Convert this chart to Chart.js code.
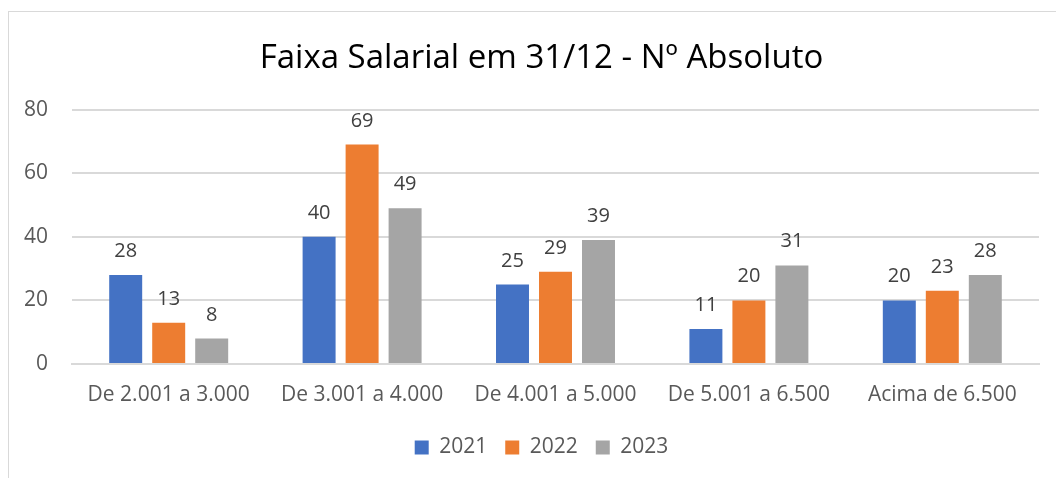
<!DOCTYPE html>
<html>
<head>
<meta charset="utf-8">
<script src="https://cdn.jsdelivr.net/npm/chart.js@4/dist/chart.umd.min.js"></script>
<style>
	html, body {margin:0; padding:0; background:#fff;}
	#wrap {position:relative; width:1056px; height:478px; overflow:hidden;}
	#frame {position:absolute; left:8px; top:11px; width:1100px; height:500px; border-left:1px solid #d9d9d9; border-top:1px solid #d9d9d9;}
	#chart {position:absolute; left:0; top:0;}
</style>
</head>
<body>
<div id="wrap">
	<div id="frame"></div>
	<canvas id="chart" width="1056" height="478"></canvas>
</div>
<script>
var categories = ['De 2.001 a 3.000','De 3.001 a 4.000','De 4.001 a 5.000','De 5.001 a 6.500','Acima de 6.500'];
var years = ['2021','2022','2023'];
var v2021 = [28, 40, 25, 11, 20];
var v2022 = [13, 69, 29, 20, 23];
var v2023 = [8, 49, 39, 31, 28];
var yTicks = [0, 20, 40, 60, 80];

var colors = ['#4472c4','#ed7d31','#a5a5a5'];
var font = "'Open Sans', sans-serif";

// values written over each bar
var barLabels = {
	id:'barLabels',
	beforeDraw(chart) {
		// y labels sit left of the (narrow) axis box, so don't clip them
		chart.scales.y._computeLabelArea = ()=>undefined;
	},
	afterDatasetsDraw(chart) {
		var ctx = chart.ctx;
		ctx.save();
		ctx.font = '20px ' + font;
		ctx.fillStyle = '#404040';
		ctx.textAlign = 'center';
		ctx.textBaseline = 'alphabetic';
		chart.data.datasets.forEach((ds,i)=>{
			chart.getDatasetMeta(i).data.forEach((bar,j)=>{
				ctx.fillText(ds.data[j], bar.x, bar.y - 18);
			});
		});
		ctx.restore();
	}
};

var ctx = document.getElementById('chart').getContext('2d');
var chart = new Chart(ctx, {
	type:'bar',
	data:{
		labels:categories,
		datasets:[
			{label:years[0], data:v2021, backgroundColor:colors[0]},
			{label:years[1], data:v2022, backgroundColor:colors[1]},
			{label:years[2], data:v2023, backgroundColor:colors[2]}
		]
	},
	options:{
		responsive:false,
		animation:false,
		devicePixelRatio:1,
		categoryPercentage:0.667,
		barPercentage:0.767,
		layout:{padding:{left:44, right:17, top:0, bottom:10}},
		plugins:{
			title:{
				display:true,
				text:'Faixa Salarial em 31/12 - Nº Absoluto',
				color:'#000',
				font:{family:font, size:33, weight:'normal'},
				padding:{top:39, bottom:31}
			},
			legend:{
				position:'bottom',
				labels:{
					color:'#595959',
					font:{family:font, size:21},
					boxWidth:14,
					boxHeight:14,
					padding:18
				}
			},
			tooltip:{enabled:false}
		},
		scales:{
			x:{
				grid:{display:false},
				border:{color:'#d9d9d9', width:2},
				ticks:{color:'#595959', font:{family:font, size:21}, padding:10},
				afterFit(s){ s.height = 55; }
			},
			y:{
				min:0, max:80,
				afterBuildTicks(s){ s.ticks = yTicks.map(v=>({value:v})); },
				grid:{color:'#d9d9d9', lineWidth:2, drawTicks:false},
				border:{display:false},
				ticks:{color:'#595959', font:{family:font, size:21}, padding:24},
				afterFit(s){ s.width = 28; }
			}
		}
	},
	plugins:[barLabels]
});
</script>
</body>
</html>
